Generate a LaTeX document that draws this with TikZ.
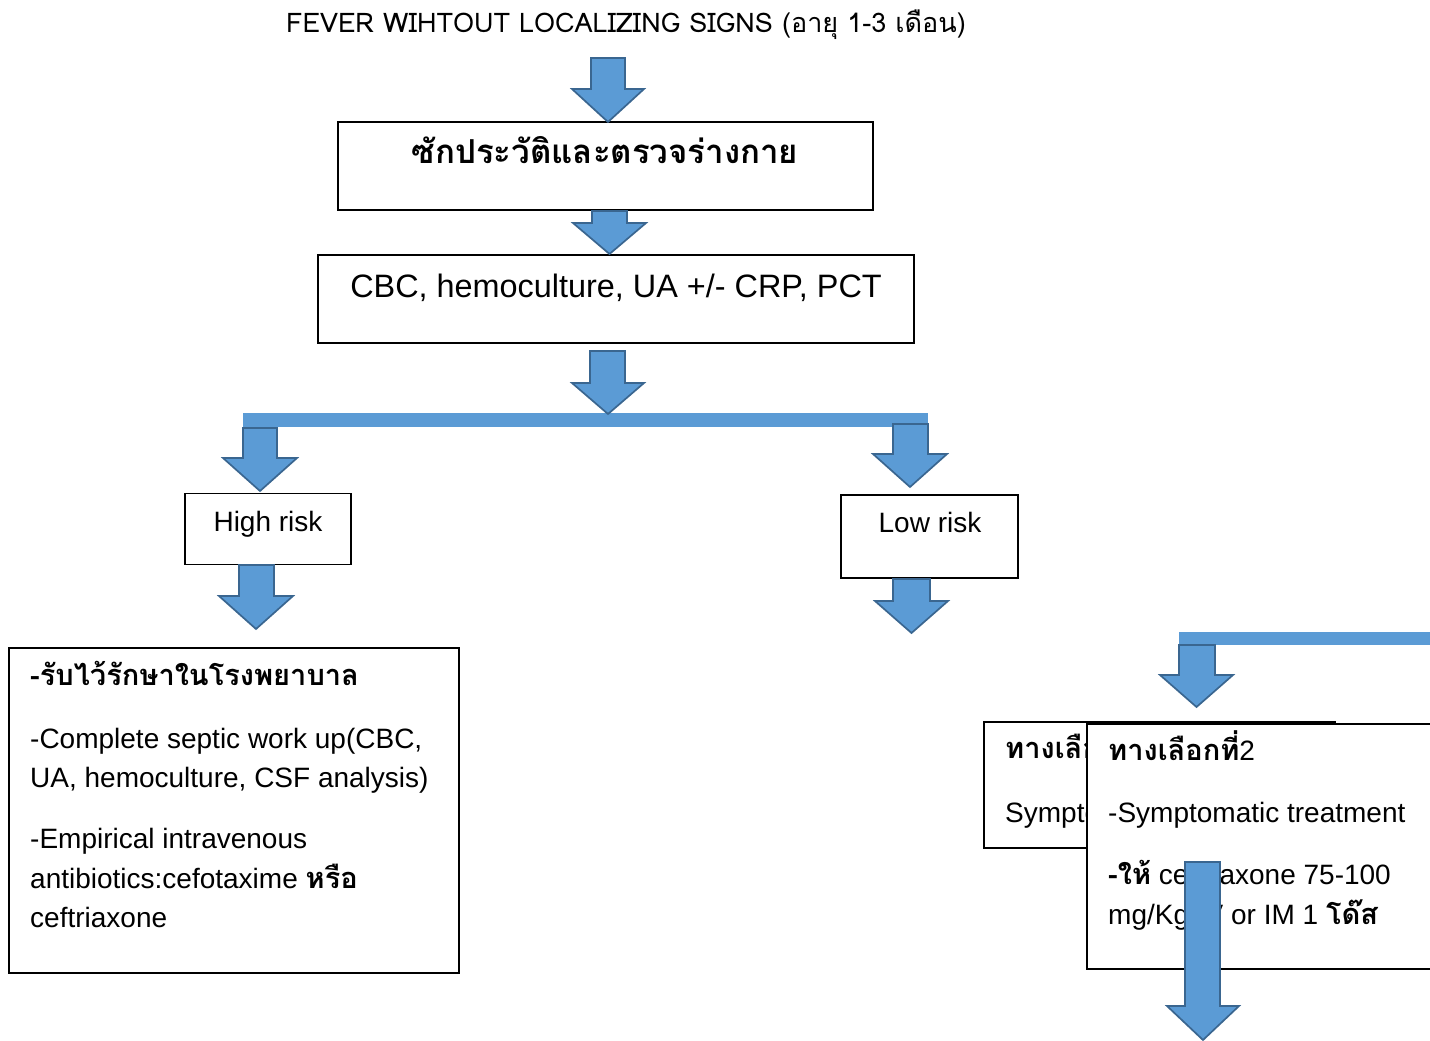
\documentclass[tikz,border=0pt]{standalone}
\usepackage{fontspec}
\setmainfont{Liberation Sans}
\newfontfamily\thai[Script=Thai]{Loma}
\definecolor{arrowblue}{HTML}{5B9BD5}
\definecolor{arrowedge}{HTML}{3A6690}
\newcommand\blockarrow[7]{%
  \draw[blockarr] (#1,#3) -- (#1,#4) -- (#5,#4) -- ({(#5+#6)/2},#7) -- (#6,#4) -- (#2,#4) -- (#2,#3) -- cycle;}
\newcommand\thb[1]{{\thai\bfseries\fontsize{29}{34}\selectfont #1}}
\tikzset{
  blockarr/.style={fill=arrowblue, draw=arrowedge, line width=1.7pt, line join=miter},
  bar/.style={fill=arrowblue, draw=none},
  box/.style={draw=black, fill=white, line width=1.3pt, rectangle, inner sep=0pt},
  txt/.style={inner sep=0pt, anchor=base west, font=\fontsize{28}{34}\selectfont},
  ctxt/.style={inner sep=0pt, anchor=base, font=\fontsize{28}{34}\selectfont}
}
\begin{document}
\begin{tikzpicture}[x=1pt,y=-1pt]
\clip (0,0) rectangle (1430,1041);
\fill[white] (0,0) rectangle (1430,1041);

% title
\node[ctxt, font=\thai\fontsize{27}{32}\selectfont] (title) at (626,33) {FEVER WIHTOUT LOCALIZING SIGNS (อายุ 1-3 เดือน)};

% box 1
\node[box, minimum width=535pt, minimum height=88pt] (b1) at (605.5,166) {};
\node[ctxt, font=\thai\bfseries\fontsize{33}{36}\selectfont] (b1t) at (605,163) {ซักประวัติและตรวจร่างกาย};

% box 2
\node[box, minimum width=596pt, minimum height=88pt] (b2) at (616,299) {};
\node[ctxt, font=\fontsize{32.4}{36}\selectfont] (b2t) at (616,297) {CBC, hemoculture, UA +/- CRP, PCT};

% high / low risk
\node[box, minimum width=166pt, minimum height=71pt] (hr) at (268,529) {};
\node[ctxt] (hrt) at (268,531) {High risk};
\node[box, minimum width=177pt, minimum height=83pt] (lr) at (929.5,536.5) {};
\node[ctxt] (lrt) at (930,532) {Low risk};

% bars
\fill[bar] (243,413) rectangle (928,427);
\fill[bar] (1179,632) rectangle (1440,645);

% arrows
\blockarrow{591}{625}{58}{89}{572}{644}{122}
\blockarrow{592}{627}{211}{223}{573}{646}{254}
\blockarrow{590}{625}{351}{383}{572}{644}{414}
\blockarrow{243}{277}{428}{458}{223}{297}{491}
\blockarrow{893}{928}{424}{454}{873}{947}{487}
\blockarrow{239}{274}{565}{596}{219}{293}{629}
\blockarrow{893}{930}{579}{601}{875}{948}{633}
\blockarrow{1179}{1215}{645}{675}{1160}{1233}{707}

% left big box
\node[box, minimum width=450pt, minimum height=325pt] (hbox) at (234,810.5) {};
\node[txt] (h1) at (30,685) {\thb{-รับไว้รักษาในโรงพยาบาล}};
\node[txt] (h2) at (30,748) {-Complete septic work up(CBC,};
\node[txt] (h3) at (30,787) {UA, hemoculture, CSF analysis)};
\node[txt] (h4) at (30,848) {-Empirical intravenous};
\node[txt] (h5) at (30,888) {antibiotics:cefotaxime \thb{หรือ}};
\node[txt] (h6) at (30,927) {ceftriaxone};

% option 1 (back), partly hidden by option 2
\node[box, minimum width=351pt, minimum height=126pt] (o1) at (1159.5,785) {};
\begin{scope}
\clip (985,722) rectangle (1086,847);
\node[txt] (o1a) at (1005,758) {\thb{ทางเลือ}};
\node[txt] (o1b) at (1005,822) {Sympto};
\end{scope}

% option 2 (front)
\node[box, minimum width=353pt, minimum height=245pt] (o2) at (1263.5,846.5) {};
\node[txt] (o2a) at (1108,760) {\thb{ทางเลือกที่}2};
\node[txt] (o2b) at (1108,822) {-Symptomatic treatment};
\node[txt] (o2c) at (1108,884) {\thb{-ให้} ceftriaxone 75-100};
\node[txt] (o2d) at (1108,924) {mg/Kg IV or IM 1 \thb{โด๊ส}};

% big vertical arrow on top
\blockarrow{1185}{1220}{862}{1006}{1167}{1239}{1040}
\end{tikzpicture}
\end{document}
